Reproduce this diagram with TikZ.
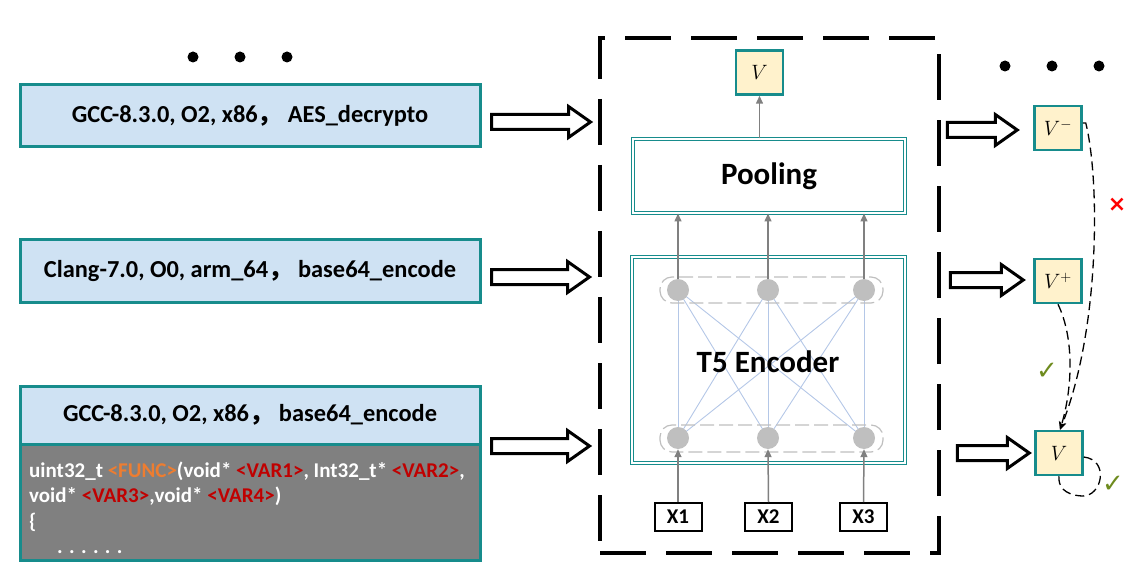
\documentclass[tikz,border=0pt]{standalone}
\usepackage{fontspec}
\setmainfont{Carlito}
\newfontfamily\cjk{Noto Sans CJK SC}
\newfontfamily\symf{DejaVu Sans}
\usetikzlibrary{arrows.meta,calc,backgrounds}
\definecolor{tealb}{HTML}{178C8C}
\definecolor{lblue}{HTML}{CFE2F3}
\definecolor{lyellow}{HTML}{FFF2CC}
\definecolor{codegray}{HTML}{808080}
\definecolor{funcc}{HTML}{ED7D31}
\definecolor{varc}{HTML}{C00000}
\definecolor{nodegray}{HTML}{BFBFBF}
\definecolor{linkblue}{HTML}{B4C7E7}
\definecolor{arrgray}{HTML}{808080}
\definecolor{okgreen}{HTML}{6E8B1E}
\tikzset{
  cfgbox/.style={draw=tealb, line width=3, fill=lblue, minimum width=460, minimum height=62, inner sep=0,
     font=\fontsize{24.4}{28}\selectfont\bfseries},
  codebox/.style={draw=tealb, line width=3, fill=codegray, minimum width=460, minimum height=116, inner sep=0},
  codeline/.style={anchor=base west, inner sep=0, text=white, font=\fontsize{21}{24}\selectfont\bfseries},
  vbox/.style={draw=tealb, line width=2.5, fill=lyellow, minimum width=47, minimum height=44, inner sep=0,
     font=\fontsize{20}{24}\selectfont},
  dblbox/.style={draw=tealb, double=white, line width=1, double distance=2.5, inner sep=0,
     font=\fontsize{31}{35}\selectfont\bfseries},
  xbox/.style={draw=black, line width=2, fill=white, minimum width=47, minimum height=28, inner sep=0,
     font=\fontsize{21}{24}\selectfont\bfseries},
  neuron/.style={circle, fill=nodegray, minimum size=22, inner sep=0},
  grouprect/.style={draw=nodegray, line width=1.2, dash pattern=on 14 off 5, rounded corners=12},
  link/.style={draw=linkblue, line width=0.9},
  garrow/.style={draw=arrgray, line width=1.5, -{Triangle[length=8,width=7]}},
  fat/.style={draw=black, line width=3, fill=white, line join=miter},
  bigframe/.style={draw=black, line width=4.5, dash pattern=on 46 off 20},
  relation/.style={draw=black, line width=1.3, dash pattern=on 9 off 5},
  dotmark/.style={circle, fill=black, minimum size=11, inner sep=0},
}
\newcommand\fatarrow[2]{\draw[fat,shift={#1}] (0,-7.5) -- (#2-22,-7.5) -- (#2-22,-15.5) -- (#2,0) -- (#2-22,15.5) -- (#2-22,7.5) -- (0,7.5) -- cycle;}
\begin{document}
\begin{tikzpicture}[x=1pt,y=-1pt]
\useasboundingbox (0,0) rectangle (1130,572);

% left dots
\node[dotmark] (ld1) at (193,57) {};
\node[dotmark] (ld2) at (240,57) {};
\node[dotmark] (ld3) at (287,57) {};
% right dots
\node[dotmark] (rd1) at (1005,66) {};
\node[dotmark] (rd2) at (1052,66) {};
\node[dotmark] (rd3) at (1099,66) {};

% left boxes
\node[cfgbox] (cfg1) at (250,116) {GCC-8.3.0, O2, x86{\cjk ，}\ AES\_decrypto};
\node[cfgbox] (cfg2) at (250,271) {Clang-7.0, O0, arm\_64{\cjk ，}\ base64\_encode};
\node[codebox] (code) at (250,502) {};
\node[cfgbox, minimum height=58] (cfg3) at (250,415) {GCC-8.3.0, O2, x86{\cjk ，}\ base64\_encode};
\node[codeline] (c1) at (29,477) {uint32\_t \textcolor{funcc}{<FUNC>}(void* \textcolor{varc}{<VAR1>}, Int32\_t* \textcolor{varc}{<VAR2>},};
\node[codeline] (c2) at (29,502) {void* \textcolor{varc}{<VAR3>},void* \textcolor{varc}{<VAR4>})};
\node[codeline] (c3) at (29,528) {\{};
\node[codeline] (c4) at (57,553) {. . . . . .};

% big dashed frame
\node[bigframe, minimum width=339, minimum height=515, inner sep=0] (frame) at (769.5,295.5) {};

% model
\node[vbox] (vout) at (759.5,72.5) {$V$};
\node[dblbox, minimum width=272, minimum height=74] (pool) at (769,176) {Pooling};
\node[dblbox, minimum width=273, minimum height=206] (enc) at (768.5,360) {};

\node[neuron] (t1) at (678,290) {};
\node[neuron] (t2) at (768,290) {};
\node[neuron] (t3) at (864,290) {};
\node[neuron] (b1) at (678,438) {};
\node[neuron] (b2) at (768,438) {};
\node[neuron] (b3) at (864,438) {};
\begin{scope}[on background layer]
  \foreach \i in {1,2,3}{\foreach \j in {1,2,3}{\draw[link] (t\i.center) -- (b\j.center);}}
  \draw[grouprect] (660,277) rectangle (883,303);
  \draw[grouprect] (660,425) rectangle (883,452);
\end{scope}
\node[font=\fontsize{31}{35}\selectfont\bfseries, inner sep=0] (enctext) at (768,362) {T5 Encoder};

\node[xbox] (x1) at (678,517) {X1};
\node[xbox] (x2) at (768.5,517) {X2};
\node[xbox] (x3) at (863.5,517) {X3};

\draw[garrow] (x1.north) -- (b1.south);
\draw[garrow] (x2.north) -- (b2.south);
\draw[garrow] (x3.north) -- (b3.south);
\draw[garrow] (t1.north) -- (t1.north |- pool.south);
\draw[garrow] (t2.north) -- (t2.north |- pool.south);
\draw[garrow] (t3.north) -- (t3.north |- pool.south);
\draw[garrow] (pool.north -| vout.south) -- (vout.south);

% fat arrows left
\fatarrow{($(cfg1.east)+(10,6)$)}{99}
\fatarrow{($(cfg2.east)+(10,6)$)}{98}
\fatarrow{($(cfg3.east)+(10,31)$)}{98}

% right vectors
\node[vbox] (vm) at (1058,128) {$V^{-}$};
\node[vbox] (vp) at (1058,281) {$V^{+}$};
\node[vbox] (va) at (1059,453) {$V$};

\fatarrow{($(frame.east)+(6,-165.5)$)}{70}
\fatarrow{($(frame.east)+(9,-15.5)$)}{73}
\fatarrow{($(frame.east)+(16,157.5)$)}{72}

% relations
\draw[relation, -{Stealth[length=8,width=7]}] ($(vm.east)+(0,-5)$) -- ++(3,0) .. controls (1100,180) and (1100,330) .. ($(va.north)+(1,0)$);
\draw[relation, -{Stealth[length=8,width=7]}] (vp.south) .. controls (1075,340) and (1072,390) .. ($(va.north)+(1,0)$);
\draw[relation] ($(va.east)+(0,4)$) .. controls (1110,460) and (1102,497) .. (1082,496) .. controls (1064,495) and (1058,486) .. (va.south);

\node[text=red, font=\symf\bfseries\fontsize{22}{24}\selectfont, inner sep=0] (xmark) at (1117,205) {×};
\node[text=okgreen, font=\symf\fontsize{26}{28}\selectfont, inner sep=0] (ok1) at (1047,371) {✓};
\node[text=okgreen, font=\symf\fontsize{26}{28}\selectfont, inner sep=0] (ok2) at (1113,484) {✓};
\end{tikzpicture}
\end{document}
